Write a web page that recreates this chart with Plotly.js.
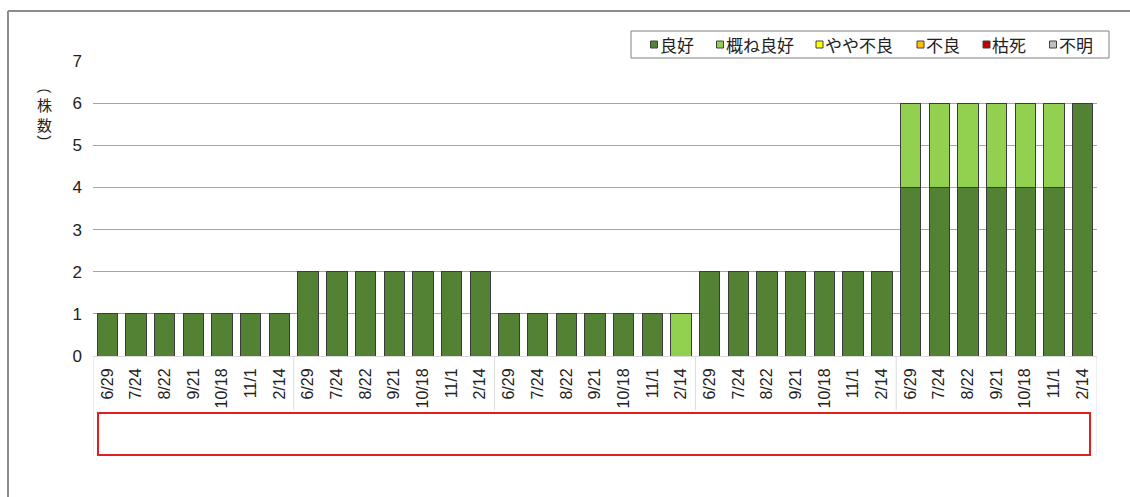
<!DOCTYPE html>
<html><head><meta charset="utf-8">
<script src="https://cdn.plot.ly/plotly-3.0.1.min.js"></script>
<style>html,body{margin:0;padding:0;background:#fff}#chart{width:1130px;height:497px}</style>
</head><body><div id="chart"></div>
<script>
// ---- data ----
const dates = ['6/29','7/24','8/22','9/21','10/18','11/1','2/14'];
const groupCount = 5;
const tickLabels = [
  '6/29','7/24','8/22','9/21','10/18','11/1','2/14',
  '6/29','7/24','8/22','9/21','10/18','11/1','2/14',
  '6/29','7/24','8/22','9/21','10/18','11/1','2/14',
  '6/29','7/24','8/22','9/21','10/18','11/1','2/14',
  '6/29','7/24','8/22','9/21','10/18','11/1','2/14'
];
const seriesNames = ['良好','概ね良好','やや不良','不良','枯死','不明'];
const seriesColors = ['#548235','#92D050','#FFFF00','#FFC000','#C00000','#BFBFBF'];
const ryoko      = [1,1,1,1,1,1,1, 2,2,2,2,2,2,2, 1,1,1,1,1,1,0, 2,2,2,2,2,2,2, 4,4,4,4,4,4,6];
const omuneRyoko = [0,0,0,0,0,0,0, 0,0,0,0,0,0,0, 0,0,0,0,0,0,1, 0,0,0,0,0,0,0, 2,2,2,2,2,2,0];
const yayaFuryo  = [0,0,0,0,0,0,0, 0,0,0,0,0,0,0, 0,0,0,0,0,0,0, 0,0,0,0,0,0,0, 0,0,0,0,0,0,0];
const furyo      = [0,0,0,0,0,0,0, 0,0,0,0,0,0,0, 0,0,0,0,0,0,0, 0,0,0,0,0,0,0, 0,0,0,0,0,0,0];
const koshi      = [0,0,0,0,0,0,0, 0,0,0,0,0,0,0, 0,0,0,0,0,0,0, 0,0,0,0,0,0,0, 0,0,0,0,0,0,0];
const fumei      = [0,0,0,0,0,0,0, 0,0,0,0,0,0,0, 0,0,0,0,0,0,0, 0,0,0,0,0,0,0, 0,0,0,0,0,0,0];
const seriesValues = [ryoko, omuneRyoko, yayaFuryo, furyo, koshi, fumei];
const yTitleChars = ['株','数'];

// ---- layout helpers (pixel -> paper) ----
const W = 1130, H = 497, ML = 93, MR = 33, MT = 61, MB = 141;
const PW = W - ML - MR, PH = H - MT - MB;
const px = x => (x - ML) / PW;
const py = y => (H - MB - y) / PH;

const xIdx = tickLabels.map((_, i) => i);
const traces = seriesNames.map((name, k) => ({
  type: 'bar', name: name, x: xIdx,
  y: seriesValues[k].map(v => v === 0 ? null : v),
  marker: {color: seriesColors[k], line: {color: '#3b3b3b', width: 1}},
  hoverinfo: 'skip', showlegend: false
}));

const N = tickLabels.length;
const perGroup = dates.length;
const shapes = [];
const annotations = [];
// outer frame
shapes.push({type:'line', xref:'paper', yref:'paper', x0:px(8), x1:px(1131), y0:py(11), y1:py(11), line:{color:'#8c8c8c', width:2}});
shapes.push({type:'line', xref:'paper', yref:'paper', x0:px(8), x1:px(8), y0:py(11), y1:py(498), line:{color:'#8c8c8c', width:2}});
// label table separators
for (let g = 0; g <= groupCount; g++) {
  const xb = g * perGroup - 0.5;
  const deep = (g === 0 || g === groupCount);
  shapes.push({type:'line', xref:'x', yref:'paper', x0:xb, x1:xb, y0:0, y1: deep ? py(455) : py(410), line:{color:'#dcdcdc', width:1}});
}
// red box
shapes.push({type:'rect', xref:'paper', yref:'paper', x0:px(98), x1:px(1090), y0:py(413), y1:py(455), line:{color:'#e02020', width:2}, fillcolor:'rgba(0,0,0,0)'});

// legend (drawn as shapes + text)
const legendFont = {size: 17, family: 'Noto Sans CJK JP, sans-serif', color: '#222'};
const legendSquareX = [650.5, 716.5, 816, 917, 983, 1049.5];
const legendCY = 44.5;
shapes.push({type:'rect', xref:'paper', yref:'paper', x0:px(631), x1:px(1109), y0:py(31), y1:py(58), line:{color:'#808080', width:1}, fillcolor:'#fff'});
seriesNames.forEach((name, k) => {
  const sx = legendSquareX[k];
  shapes.push({type:'rect', xref:'paper', yref:'paper', x0:px(sx), x1:px(sx + 7), y0:py(legendCY + 3.5), y1:py(legendCY - 3.5),
    line:{color:'#404040', width:1}, fillcolor: seriesColors[k]});
  annotations.push({xref:'paper', yref:'paper', x:px(sx + 8), y:py(legendCY), xanchor:'left', yanchor:'middle',
    text:name, showarrow:false, font: legendFont, borderpad:0});
});

// y-axis title (vertical writing): rotated parentheses + stacked characters
const titleFont = {size: 15, family: 'Noto Sans CJK JP, sans-serif', color: '#222'};
const parenFont = {size: 14, family: 'Liberation Sans, Arial, sans-serif', color: '#222'};
const tx = px(44.5);
annotations.push({xref:'paper', yref:'paper', x:tx, y:py(91), xanchor:'center', yanchor:'middle', text:'(', textangle:90, showarrow:false, font:parenFont, borderpad:0});
annotations.push({xref:'paper', yref:'paper', x:tx, y:py(114.5), xanchor:'center', yanchor:'middle', text:yTitleChars.join('<br>'), showarrow:false, font:titleFont, borderpad:0});
annotations.push({xref:'paper', yref:'paper', x:tx, y:py(138), xanchor:'center', yanchor:'middle', text:')', textangle:90, showarrow:false, font:parenFont, borderpad:0});

const layout = {
  width: W, height: H,
  margin: {l: ML, r: MR, t: MT, b: MB},
  paper_bgcolor: '#fff', plot_bgcolor: '#fff',
  barmode: 'stack', bargap: 0.29,
  showlegend: false,
  font: {family: 'Liberation Sans, Arial, sans-serif', color: '#222'},
  xaxis: {
    range: [-0.5, N - 0.5], tickmode: 'array', tickvals: xIdx, ticktext: tickLabels,
    tickangle: -90, ticks: '', showgrid: false, zeroline: false,
    showline: true, linecolor: '#d9d9d9', linewidth: 1,
    ticklabelstandoff: 5,
    tickfont: {size: 16, family: 'Liberation Sans, Arial, sans-serif', color: '#222'},
    fixedrange: true
  },
  yaxis: {
    range: [0, 7], dtick: 1, tick0: 0, showgrid: true, gridcolor: '#a6a6a6', gridwidth: 1,
    zeroline: false, showline: false, ticks: '',
    ticklabelstandoff: 10,
    tickfont: {size: 17, family: 'Liberation Sans Narrow, Liberation Sans, Arial, sans-serif', color: '#222'},
    fixedrange: true
  },
  annotations: annotations,
  shapes: shapes
};
Plotly.newPlot('chart', traces, layout, {staticPlot: true, displayModeBar: false});
</script></body></html>
